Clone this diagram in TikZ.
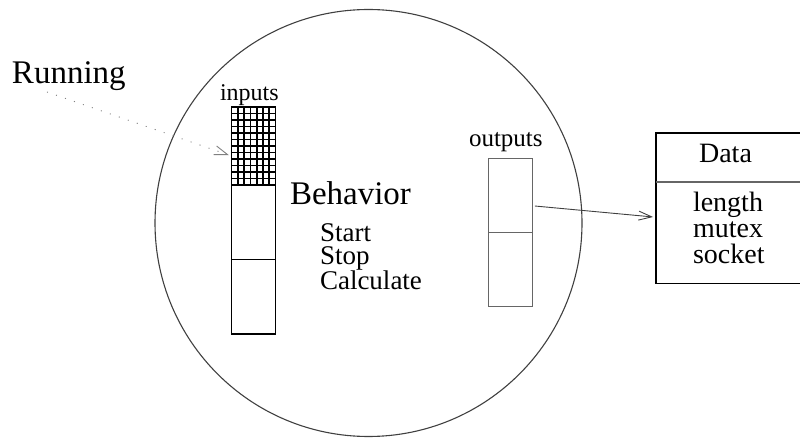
\documentclass[tikz,border=0pt]{standalone}
\usepackage{fontspec}
\setmainfont{Liberation Serif}
\usetikzlibrary{arrows.meta,calc}
\definecolor{circ}{gray}{0.25}
\definecolor{obox}{gray}{0.4}
\tikzset{
  lbl/.style={anchor=base west, inner sep=0pt, outer sep=0pt},
  colbox/.style={draw=black, line width=1.4pt, minimum width=44pt, inner sep=0pt, outer sep=0pt, anchor=north west},
  outbox/.style={draw=obox, line width=0.9pt, minimum width=44pt, minimum height=74.2pt, inner sep=0pt, outer sep=0pt, anchor=north west},
  barb/.style={-{Straight Barb[length=13pt,width=9pt,line width=0.9pt]}},
}
\begin{document}
\begin{tikzpicture}[x=1pt,y=-1pt]
\useasboundingbox (0,0) rectangle (800,438);
% big circle
\node[draw=circ, line width=1.1pt, circle, minimum size=427pt, inner sep=0pt, outer sep=0pt] (beh) at (368.5,223) {};
% inputs column
\node[colbox, minimum height=78pt] (grid) at (231.6,107) {};
\foreach \i in {1,...,6} \draw[line width=1.9pt] ($(grid.north west)+(\i*44/7,0)$) -- ($(grid.south west)+(\i*44/7,0)$);
\foreach \j in {1,...,11} \draw[line width=1.9pt] ($(grid.north west)+(0,\j*78/12)$) -- ($(grid.north east)+(0,\j*78/12)$);
\node[colbox, minimum height=74.5pt] (in1) at (231.6,185) {};
\node[colbox, minimum height=74.5pt] (in2) at (231.6,259.5) {};
\node[lbl, font=\fontsize{24}{26}\selectfont] (inl) at (220,100.7) {inputs};
% texts
\node[lbl, font=\fontsize{33}{36}\selectfont] (run) at (12,84) {Running};
\node[lbl, font=\fontsize{33}{36}\selectfont] (behl) at (290,205) {Behavior};
\node[lbl, font=\fontsize{27}{23.5}\selectfont, align=left] (ops) at (320,290) {Start\\Stop\\Calculate};
% outputs column
\node[outbox] (out1) at (488.8,158.4) {};
\node[outbox] (out2) at (488.8,232.6) {};
\node[lbl, font=\fontsize{25}{27}\selectfont] (outl) at (469,147) {outputs};
% data box
\node[draw=black, line width=1.4pt, minimum width=148pt, minimum height=150.5pt, inner sep=0pt, outer sep=0pt, anchor=north west] (data) at (656,133) {};
\draw[obox, line width=1.1pt] ([yshift=-49pt]data.north west) -- ([yshift=-49pt]data.north east);
\node[anchor=base, inner sep=0pt, font=\fontsize{28}{30}\selectfont] (dtitle) at (725.5,163) {Data};
\node[lbl, font=\fontsize{28}{26}\selectfont, align=left] (dfields) at (693,264) {length\\mutex\\socket};
% connectors
\coordinate (rs) at (47,92);
\draw[barb, line width=0.9pt, gray, dash pattern=on 1pt off 8.5pt, shorten >=3pt] (rs) -- ([yshift=-10pt]grid.west);
\draw[barb, line width=0.9pt, circ, shorten >=3pt] ([xshift=2pt,yshift=-10.5pt]out1.east) -- ([yshift=-9pt]data.west);
\end{tikzpicture}
\end{document}
